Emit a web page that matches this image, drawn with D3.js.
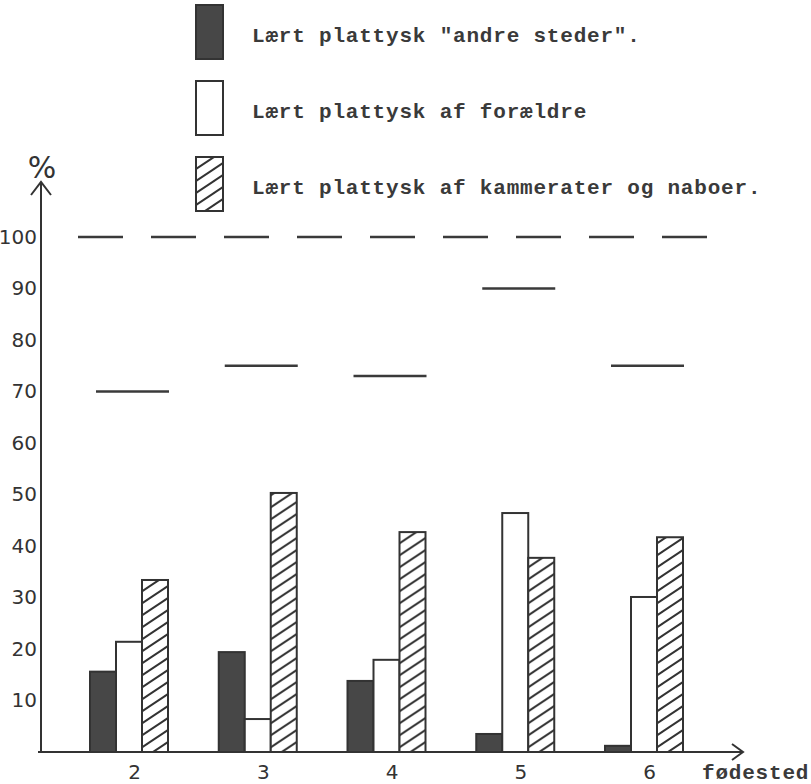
<!DOCTYPE html>
<html>
<head>
<meta charset="utf-8">
<script src="https://cdn.jsdelivr.net/npm/d3@7"></script>
<style>
  body { margin: 0; background: #fff; }
  svg { display: block; }
  .tw { font-family: "Liberation Mono", monospace; font-weight: bold; fill: #3a3a3a; }
  .hand { font-family: "DejaVu Sans", sans-serif; fill: #333; }
</style>
</head>
<body>
<svg width="811" height="784"></svg>
<script>
// data
var categories = ["2", "3", "4", "5", "6"];
var andreSteder = [15.6, 19.4, 13.8, 3.5, 1.2];
var foraeldre = [21.4, 6.4, 17.9, 46.4, 30.1];
var kammerater = [33.4, 50.3, 42.7, 37.7, 41.7];
var samlet = [70, 75, 73, 90, 75];
var hundred = 100;
var yTicks = [10, 20, 30, 40, 50, 60, 70, 80, 90, 100];
var legendLabels = [
  'Lært plattysk "andre steder".',
  "Lært plattysk af forældre",
  "Lært plattysk af kammerater og naboer."
];
var seriesKeys = ["andre", "foraeldre", "kammerater"];

var svg = d3.select("svg");
var ink = "#333";

var x = d3.scalePoint().domain(categories).range([129, 644]);
var xSub = d3.scaleBand().domain(seriesKeys).range([-39, 39]);
var y = d3.scaleLinear().domain([0, 100]).range([752, 237]);

// hatch pattern
var defs = svg.append("defs");
var pat = defs.append("pattern")
  .attr("id", "hatch")
  .attr("patternUnits", "userSpaceOnUse")
  .attr("width", 18).attr("height", 12);
pat.append("rect").attr("width", 18).attr("height", 12).attr("fill", "#fff");
pat.append("path")
  .attr("d", "M-1,12.67 L19,-0.67 M-1,0.67 L1,-0.67 M17,12.67 L19,11.33")
  .attr("stroke", ink).attr("stroke-width", 2);

var fills = { andre: "#474747", foraeldre: "#fff", kammerater: "url(#hatch)" };

// axes
var axisG = svg.append("g");
axisG.append("line")
  .attr("x1", 41).attr("x2", 41)
  .attr("y1", y(0) + 1).attr("y2", y(hundred) - 55)
  .attr("stroke", ink).attr("stroke-width", 2);
axisG.append("path")
  .attr("d", "M31," + (y(hundred) - 42) + " L41," + (y(hundred) - 55) + " L51," + (y(hundred) - 42))
  .attr("fill", "none").attr("stroke", ink).attr("stroke-width", 2);
axisG.append("line")
  .attr("x1", 38).attr("x2", 743)
  .attr("y1", y(0)).attr("y2", y(0))
  .attr("stroke", ink).attr("stroke-width", 2);
axisG.append("path")
  .attr("d", "M732," + (y(0) - 8) + " L743," + y(0) + " L732," + (y(0) + 8))
  .attr("fill", "none").attr("stroke", ink).attr("stroke-width", 2);

svg.append("g")
  .attr("transform", "translate(37,0)")
  .call(d3.axisLeft(y).tickValues(yTicks).tickSize(0).tickPadding(0))
  .call(function(g) { g.select(".domain").remove(); })
  .selectAll("text")
  .attr("class", "hand")
  .attr("font-size", 20)
  .attr("fill", ink);

svg.append("g")
  .attr("transform", "translate(5," + y(0) + ")")
  .call(d3.axisBottom(x).tickSize(0).tickPadding(13))
  .call(function(g) { g.select(".domain").remove(); })
  .selectAll("text")
  .attr("class", "hand")
  .attr("font-size", 20)
  .attr("fill", ink);

svg.append("text")
  .attr("class", "hand")
  .attr("x", 42).attr("y", y(hundred) - 59)
  .attr("text-anchor", "middle")
  .attr("font-size", 30)
  .text("%");

svg.append("text")
  .attr("class", "tw")
  .attr("x", 702).attr("y", 779)
  .attr("font-size", 21)
  .attr("letter-spacing", 0.8)
  .text("fødested");

// 100 % dashed line
svg.append("line")
  .attr("x1", 78).attr("x2", 709)
  .attr("y1", y(hundred)).attr("y2", y(hundred))
  .attr("stroke", "#3a3a3a").attr("stroke-width", 2.5)
  .attr("stroke-dasharray", "45 28");

// short level lines per group
svg.append("g").selectAll("line")
  .data(samlet)
  .enter().append("line")
  .attr("x1", function(d, i) { return x(categories[i]) - 33; })
  .attr("x2", function(d, i) { return x(categories[i]) + 40; })
  .attr("y1", function(d) { return y(d); })
  .attr("y2", function(d) { return y(d); })
  .attr("stroke", "#3a3a3a").attr("stroke-width", 2.5);

// bars
var rows = categories.map(function(c, i) {
  return { cat: c, andre: andreSteder[i], foraeldre: foraeldre[i], kammerater: kammerater[i] };
});

var groups = svg.append("g").selectAll("g")
  .data(rows)
  .enter().append("g")
  .attr("transform", function(d) { return "translate(" + x(d.cat) + ",0)"; });

groups.selectAll("rect")
  .data(function(d) { return seriesKeys.map(function(k) { return { key: k, value: d[k] }; }); })
  .enter().append("rect")
  .attr("x", function(d) { return xSub(d.key); })
  .attr("width", xSub.bandwidth())
  .attr("y", function(d) { return y(d.value); })
  .attr("height", function(d) { return y(0) - y(d.value); })
  .attr("fill", function(d) { return fills[d.key]; })
  .attr("stroke", ink)
  .attr("stroke-width", 2);

// legend
var legend = svg.append("g").selectAll("g")
  .data(legendLabels)
  .enter().append("g")
  .attr("transform", function(d, i) { return "translate(196," + (5 + i * 76) + ")"; });

legend.append("rect")
  .attr("width", 27).attr("height", 54)
  .attr("fill", function(d, i) { return fills[seriesKeys[i]]; })
  .attr("stroke", ink).attr("stroke-width", 2);

legend.append("text")
  .attr("class", "tw")
  .attr("x", 56).attr("y", 37)
  .attr("font-size", 21)
  .attr("letter-spacing", 0.8)
  .text(function(d) { return d; });
</script>
</body>
</html>
